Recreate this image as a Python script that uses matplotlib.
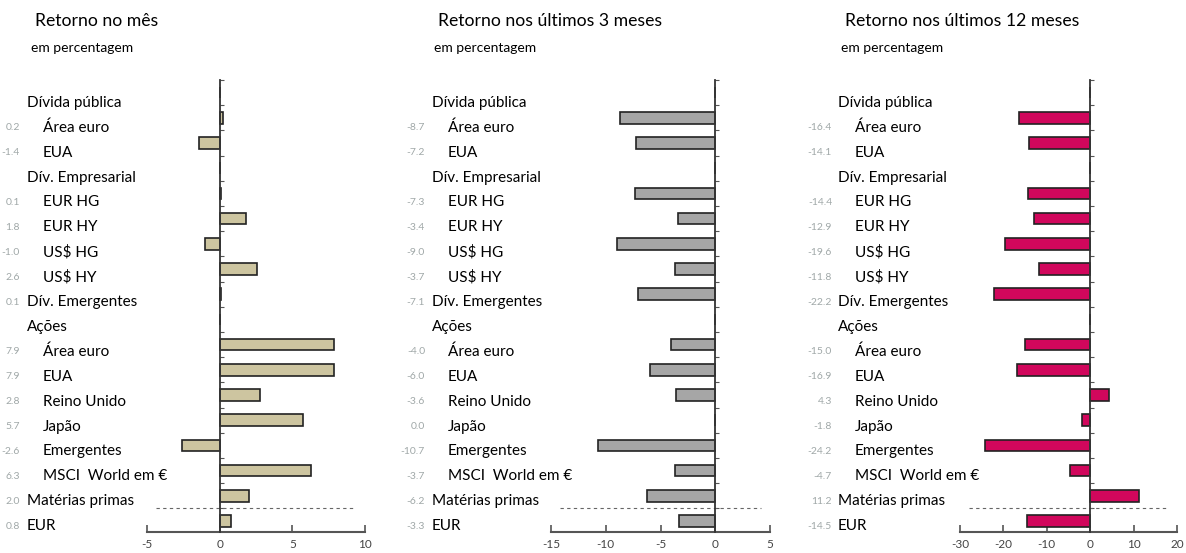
import numpy as np
import matplotlib.pyplot as plt
from matplotlib.transforms import blended_transform_factory

plt.rcParams['font.family'] = ['Lato', 'DejaVu Sans']
plt.rcParams['axes.unicode_minus'] = False

labels = ["Dívida pública", "Área euro", "EUA", "Dív. Empresarial", "EUR HG", "EUR HY",
          "US\\$ HG", "US\\$ HY", "Dív. Emergentes", "Ações", "Área euro", "EUA",
          "Reino Unido", "Japão", "Emergentes", "MSCI  World em €", "Matérias primas", "EUR"]
is_header = [True, False, False, True, False, False, False, False, True, True,
             False, False, False, False, False, False, True, True]

nan = np.nan
ret_month = [nan, 0.2, -1.4, nan, 0.1, 1.8, -1.0, 2.6, 0.1, nan,
             7.9, 7.9, 2.8, 5.7, -2.6, 6.3, 2.0, 0.8]
ret_3m = [nan, -8.7, -7.2, nan, -7.3, -3.4, -9.0, -3.7, -7.1, nan,
          -4.0, -6.0, -3.6, 0.0, -10.7, -3.7, -6.2, -3.3]
ret_12m = [nan, -16.4, -14.1, nan, -14.4, -12.9, -19.6, -11.8, -22.2, nan,
           -15.0, -16.9, 4.3, -1.8, -24.2, -4.7, 11.2, -14.5]

titles = ["Retorno no mês", "Retorno nos últimos 3 meses", "Retorno nos últimos 12 meses"]
series = [ret_month, ret_3m, ret_12m]
colors = ["#cdc5a0", "#a6a6a6", "#d1075c"]
xlims = [(-5, 10), (-15, 5), (-30, 20)]
xticks = [[-5, 0, 5, 10], [-15, -10, -5, 0, 5], [-30, -20, -10, 0, 10, 20]]

W, H = 1186, 553
fig = plt.figure(figsize=(W / 100, H / 100), dpi=100)

# pixel layout of each panel: axes left/right, text columns
ax_px = [(147, 365), (551, 770), (960, 1177)]
hdr_px = [27, 432, 838]
sub_px = [43, 448, 855]
val_px = [20, 425, 832]
title_px = [35, 438, 845]
ax_top, ax_bot = 80, 532

y = np.arange(len(labels))
# labels sit a bit lower than the bars, as in the original layout
text_y = 0.41 + 0.988 * y

for i in range(3):
    l, r = ax_px[i]
    ax = fig.add_axes([l / W, 1 - ax_bot / H, (r - l) / W, (ax_bot - ax_top) / H])
    vals = np.array(series[i], dtype=float)
    ax.barh(y, np.nan_to_num(vals), height=0.46, color=colors[i],
            edgecolor="#222222", linewidth=1.2, zorder=3)
    ax.set_xlim(*xlims[i])
    ax.set_ylim(17.44, -0.42)

    for s in ["top", "right"]:
        ax.spines[s].set_visible(False)
    ax.spines["left"].set_position(("data", 0))
    ax.spines["left"].set_color("#333333")
    ax.spines["left"].set_linewidth(1.3)
    ax.spines["bottom"].set_color("#555555")
    ax.spines["bottom"].set_linewidth(1.5)
    ax.spines["left"].set_zorder(4)

    ax.set_yticks(np.arange(-0.5, 17.5, 1))
    ax.set_yticklabels([])
    ax.tick_params(axis="y", direction="in", length=3, color="#555555")
    ax.set_xticks(xticks[i])
    ax.tick_params(axis="x", direction="in", length=5, width=1.2, color="#555555",
                   labelsize=8.5, labelcolor="#444444", pad=5)

    ax.axhline(16.5, xmin=0.04, xmax=0.96, color="#666666", linestyle=(0, (3, 3)),
               linewidth=0.8, zorder=2)

    tr = blended_transform_factory(fig.transFigure, ax.transData)
    for j, lab in enumerate(labels):
        xpos = hdr_px[i] if is_header[j] else sub_px[i]
        ax.text(xpos / W, text_y[j], lab, transform=tr, ha="left", va="center",
                fontsize=11, color="#000000")
        if not np.isnan(vals[j]):
            ax.text(val_px[i] / W, text_y[j], f"{vals[j]:.1f}", transform=tr, ha="right",
                    va="center", fontsize=7.5, color="#a0a8a8")

    fig.text(title_px[i] / W, 1 - 21 / H, titles[i], ha="left", va="center",
             fontsize=12.7, color="#000000")
    fig.text((title_px[i] - 4) / W, 1 - 48 / H, "em percentagem", ha="left", va="center",
             fontsize=10, color="#000000")

fig.savefig("out.png", dpi=100)
